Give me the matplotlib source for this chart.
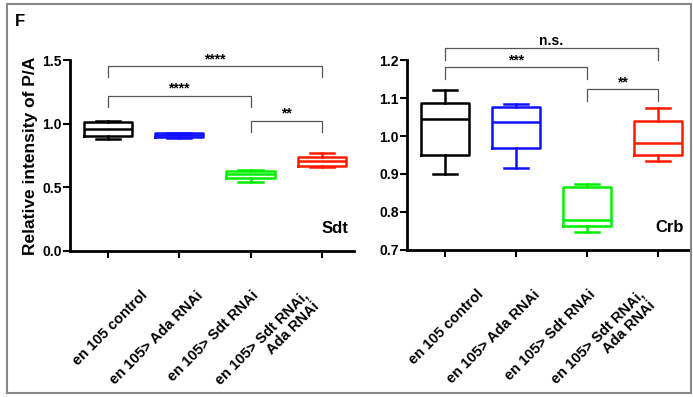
import matplotlib
matplotlib.use("Agg")
import matplotlib.pyplot as plt
from matplotlib.transforms import ScaledTranslation
from matplotlib.patches import Rectangle

plt.rcParams['font.family'] = ['Liberation Sans', 'DejaVu Sans']
plt.rcParams['font.weight'] = 'bold'

groups = ["en 105 control", "en 105> Ada RNAi", "en 105> Sdt RNAi", "en 105> Sdt RNAi,\nAda RNAi"]
colors = ["#000000", "#1010ff", "#00ee00", "#ff1a00"]

# Sdt panel
sdt_lo = [0.877, 0.890, 0.544, 0.662]
sdt_q1 = [0.903, 0.895, 0.571, 0.670]
sdt_med = [0.958, 0.910, 0.602, 0.705]
sdt_q3 = [1.011, 0.925, 0.631, 0.741]
sdt_hi = [1.021, 0.930, 0.636, 0.767]

# Crb panel
crb_lo = [0.900, 0.917, 0.748, 0.934]
crb_q1 = [0.949, 0.969, 0.764, 0.950]
crb_med = [1.046, 1.037, 0.779, 0.982]
crb_q3 = [1.086, 1.077, 0.865, 1.040]
crb_hi = [1.121, 1.083, 0.874, 1.073]

# significance brackets: (i, j, label)
sdt_sig = [(0, 3, "****"), (0, 2, "****"), (2, 3, "**")]
sdt_sig_y = [1.453, 1.220, 1.024]
crb_sig = [(0, 3, "n.s."), (0, 2, "***"), (2, 3, "**")]
crb_sig_y = [1.231, 1.181, 1.123]

W, H = 693, 397
fig = plt.figure(figsize=(W / 100, H / 100), dpi=100)

def fx(px):
    return px / W

def fy(py):
    return 1 - py / H

ax1 = fig.add_axes([fx(70), fy(251), fx(354) - fx(70), fy(60) - fy(251)])
ax2 = fig.add_axes([fx(407), fy(250), fx(690) - fx(407), fy(60) - fy(250)])

label_dx = [42, 27, 11, 0]


def panel(ax, lo, q1, med, q3, hi, ylim, yticks, ytl, sig, sig_y, leg_drop, name):
    stats = []
    for i in range(len(groups)):
        stats.append(dict(med=med[i], q1=q1[i], q3=q3[i], whislo=lo[i], whishi=hi[i], label=groups[i]))
    bp = ax.bxp(stats, positions=range(len(groups)), widths=0.68, capwidths=0.34,
                showfliers=False, patch_artist=False)
    for i, c in enumerate(colors):
        bp['boxes'][i].set(color=c, linewidth=1.8)
        bp['medians'][i].set(color=c, linewidth=1.8)
        for k in (2 * i, 2 * i + 1):
            bp['whiskers'][k].set(color=c, linewidth=1.8)
            bp['caps'][k].set(color=c, linewidth=1.8)
    ax.set_xlim(-0.53, 3.45)
    ax.set_ylim(*ylim)
    ax.set_yticks(yticks)
    ax.set_yticklabels(ytl, fontsize=10, fontweight='bold')
    ax.set_xticks(range(len(groups)))
    ax.set_xticklabels(groups, rotation=45, ha='right', va='top', fontsize=10.5,
                       fontweight='bold', linespacing=1.15)
    ax.tick_params(axis='x', length=5, width=1.5, pad=22)
    ax.tick_params(axis='y', length=5, width=1.5, pad=1)
    for s in ('top', 'right'):
        ax.spines[s].set_visible(False)
    for s in ('left', 'bottom'):
        ax.spines[s].set_linewidth(2)
    ax.patch.set_alpha(0)
    for lab, dx in zip(ax.get_xticklabels(), label_dx):
        lab.set_transform(lab.get_transform() + ScaledTranslation(dx / 100, 0, fig.dpi_scale_trans))
    for (i, j, t), y in zip(sig, sig_y):
        ax.plot([i, i, j, j], [y - leg_drop, y, y, y - leg_drop], color='#555555', lw=0.9, clip_on=False)
        ax.text((i + j) / 2, y, t, ha='center', va='bottom', fontsize=10, fontweight='bold')
    ax.text(0.98, 0.08, name, transform=ax.transAxes, ha='right', va='bottom', fontsize=12, fontweight='bold')


panel(ax1, sdt_lo, sdt_q1, sdt_med, sdt_q3, sdt_hi, (0, 1.5), [0, 0.5, 1.0, 1.5],
      ["0.0", "0.5", "1.0", "1.5"], sdt_sig, sdt_sig_y, 0.09, "Sdt")
panel(ax2, crb_lo, crb_q1, crb_med, crb_q3, crb_hi, (0.7, 1.2), [0.7, 0.8, 0.9, 1.0, 1.1, 1.2],
      ["0.7", "0.8", "0.9", "1.0", "1.1", "1.2"], crb_sig, crb_sig_y, 0.031, "Crb")

ax1.set_ylabel("Relative intensity of P/A", fontsize=12.5, fontweight='bold', labelpad=3)

fig.text(fx(20), fy(22), "F", fontsize=12, fontweight='bold', ha='center', va='center')
fig.patches.append(Rectangle((fx(7), fy(393)), fx(691) - fx(7), fy(4) - fy(393),
                             transform=fig.transFigure, fill=False, edgecolor='#888888', lw=1.5))

fig.savefig("out.png", dpi=100)
